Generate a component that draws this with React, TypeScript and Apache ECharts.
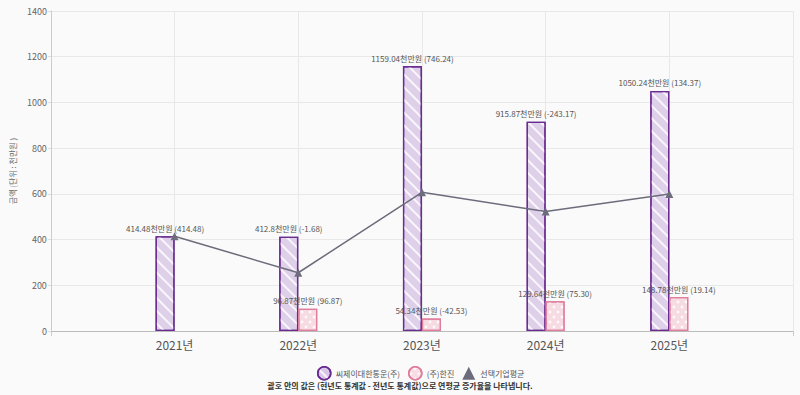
import React, { useEffect, useRef } from "react";
import * as echarts from "echarts";

const categories = ["", "2021년", "2022년", "2023년", "2024년", "2025년", ""];
const cjValues = [null, 414.48, 412.8, 1159.04, 915.87, 1050.24, null];
const cjDiff = ["", "414.48", "-1.68", "746.24", "-243.17", "134.37", ""];
const hjValues = [null, null, 96.87, 54.34, 129.64, 148.78, null];
const hjDiff = ["", "", "96.87", "-42.53", "75.30", "19.14", ""];
const avgValues = [null, 414.48, 254.84, 606.69, 522.76, 599.51, null];
const seriesNames = ["씨제이대한통운(주)", "(주)한진", "선택기업평균"];
const yTicks = { min: 0, max: 1400, interval: 200 };
const yAxisName = "금액 (단위 : 천만원 )";
const footnote = "괄호 안의 값은 (현년도 통계값 - 전년도 통계값)으로 연평균 증가율을 나타냅니다.";

const FONT = "'Noto Sans CJK KR', 'Noto Sans', sans-serif";

export default function App() {
  const ref = useRef<HTMLDivElement>(null);
  useEffect(() => {
    document.body.style.margin = "0";
    if (!ref.current) return;
    const chart = echarts.init(ref.current, undefined, { renderer: "svg" });
    const labelFmt = (diffs: string[]) => (p: any) =>
      p.value == null ? "" : `${p.value}천만원 (${diffs[p.dataIndex]})`;
    chart.setOption({
      animation: false,
      backgroundColor: "#fafafa",
      textStyle: { fontFamily: FONT },
      grid: { left: 48, right: 7, top: 11, bottom: 64, containLabel: false },
      legend: {
        top: 361,
        left: 312,
        itemWidth: 13,
        itemHeight: 13,
        itemGap: 8,
        textStyle: { fontSize: 8, color: "#555", fontFamily: FONT },
        data: [
          { name: seriesNames[0], icon: "circle", itemStyle: { color: "#d9c6e8", borderColor: "#6a2c91", borderWidth: 1.5 } },
          { name: seriesNames[1], icon: "circle", itemStyle: { color: "#f7dce4", borderColor: "#e07c9c", borderWidth: 1.5 } },
          { name: seriesNames[2], icon: "triangle", itemStyle: { color: "#6c6c7c" } },
        ],
      },
      graphic: [
        {
          type: "text",
          left: "center",
          top: 381,
          style: { text: footnote, fontSize: 8, fontWeight: "bold", fill: "#333", fontFamily: FONT },
        },
      ],
      xAxis: {
        type: "category",
        data: categories,
        boundaryGap: false,
        axisLine: { lineStyle: { color: "#bbb" } },
        axisTick: { show: true, length: 5, lineStyle: { color: "#ccc" }, interval: (i: number) => i === 0 || i === categories.length - 1 },
        axisLabel: { fontSize: 12, color: "#555", margin: 7, fontFamily: FONT },
        splitLine: { show: true, lineStyle: { color: "#e8e8e8" } },
      },
      yAxis: {
        type: "value",
        min: yTicks.min,
        max: yTicks.max,
        interval: yTicks.interval,
        name: yAxisName,
        nameLocation: "middle",
        nameGap: 29,
        nameTextStyle: { fontSize: 8, color: "#666", fontFamily: FONT },
        axisLine: { show: true, lineStyle: { color: "#ccc" } },
        axisTick: { show: true, length: 3, lineStyle: { color: "#ddd" } },
        axisLabel: { fontSize: 9, color: "#666", margin: 4, formatter: (v: number) => String(v) },
        splitLine: { lineStyle: { color: "#e8e8e8" } },
      },
      series: [
        {
          name: seriesNames[0],
          type: "bar",
          data: cjValues,
          barWidth: 19,
          barGap: "0%",
          itemStyle: {
            color: "#dfd0ea",
            borderColor: "#6a2c91",
            borderWidth: 1.3,
            decal: {
              symbol: "rect",
              color: "rgba(255,255,255,0.8)",
              dashArrayX: [1, 0],
              dashArrayY: [1.5, 7],
              rotation: Math.PI / 4,
            },
          },
          label: {
            show: true,
            position: "top",
            distance: 4,
            fontSize: 8,
            color: "#555",
            formatter: labelFmt(cjDiff),
          },
        },
        {
          name: seriesNames[1],
          type: "bar",
          data: hjValues,
          barWidth: 19,
          barGap: "0%",
          itemStyle: {
            color: "#f7dbe3",
            borderColor: "#e07c9c",
            borderWidth: 1.2,
            decal: {
              symbol: "circle",
              symbolSize: 0.7,
              color: "rgba(255,255,255,0.85)",
              dashArrayX: [[4, 4], [0, 4, 4, 0]],
              dashArrayY: [4, 1],
            },
          },
          label: {
            show: true,
            position: "top",
            distance: 4,
            fontSize: 8,
            color: "#555",
            formatter: labelFmt(hjDiff),
          },
        },
        {
          name: seriesNames[2],
          type: "line",
          data: avgValues,
          symbol: "triangle",
          symbolSize: 8,
          lineStyle: { color: "#6c6c7c", width: 1.5 },
          itemStyle: { color: "#6c6c7c" },
          z: 5,
        },
      ],
    });
    return () => chart.dispose();
  }, []);
  return <div ref={ref} style={{ width: 800, height: 395 }} />;
}
